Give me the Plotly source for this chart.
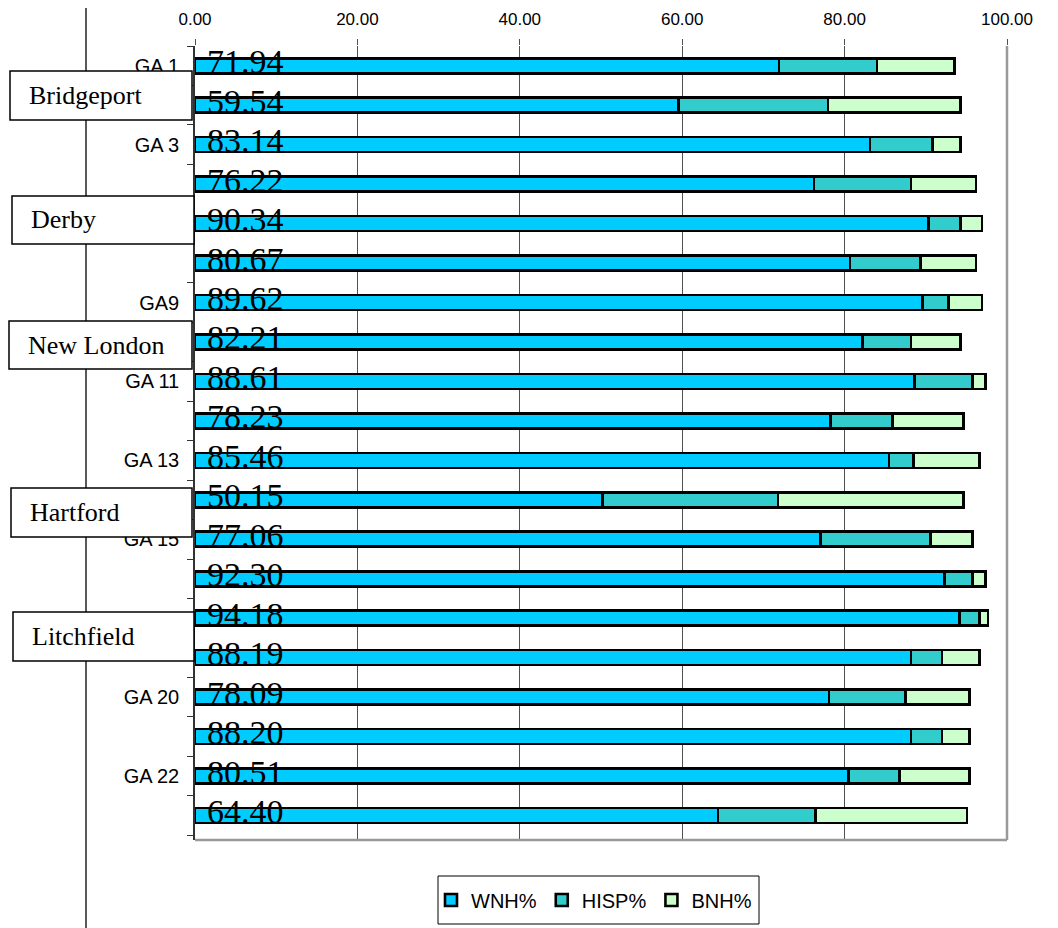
import plotly.graph_objects as go

# ---------------- data ----------------
categories = ["GA 1", "GA 2", "GA 3", "GA 4", "GA 5", "GA 6", "GA9", "GA 10", "GA 11", "GA 12",
              "GA 13", "GA 14", "GA 15", "GA 16", "GA 17", "GA 18", "GA 20", "GA 21", "GA 22", "GA 23"]
tick_labels = ["GA 1", "", "GA 3", "", "GA 5", "", "GA9", "", "GA 11", "",
               "GA 13", "", "GA 15", "", "", "", "GA 20", "", "GA 22", ""]
wnh = [71.94, 59.54, 83.14, 76.22, 90.34, 80.67, 89.62, 82.21, 88.61, 78.23,
       85.46, 50.15, 77.06, 92.30, 94.18, 88.19, 78.09, 88.20, 80.51, 64.40]
hisp = [12.06, 18.42, 7.71, 11.96, 3.91, 8.66, 3.20, 5.97, 7.16, 7.69,
        3.05, 21.66, 13.50, 3.47, 2.41, 3.81, 9.39, 3.80, 6.23, 12.00]
bnh = [9.50, 16.29, 3.40, 8.00, 2.67, 6.85, 4.10, 6.07, 1.56, 8.74,
       8.08, 22.85, 5.21, 1.56, 1.07, 4.59, 7.92, 3.40, 8.66, 18.67]
series_names = ["WNH%", "HISP%", "BNH%"]
series_colors = ["#00CCFF", "#33CCCC", "#CCFFCC"]
x_ticks = [0, 20, 40, 60, 80, 100]
cities = ["Bridgeport", "Derby", "New London", "Hartford", "Litchfield"]
# city box geometry in page pixels (left, top, right, bottom)
city_boxes = [(10, 71, 192, 120), (12, 196, 194, 244), (9, 321, 192, 369),
              (11, 488, 192, 537), (13, 612, 194, 661)]

OFF = 8  # default page body margin
W, H = 1050, 920
ML, MT = 195 - OFF, 46 - OFF
PW, PH = 812, 794
MR, MB = W - ML - PW, H - MT - PH


def px2x(px):
    return (px - OFF - ML) / PW


def px2y(py):
    return (MT + PH - (py - OFF)) / PH


fig = go.Figure()
for name, vals, col in zip(series_names, [wnh, hisp, bnh], series_colors):
    fig.add_trace(go.Bar(
        y=categories, x=vals, name=name, orientation="h",
        marker=dict(color=col, line=dict(color="black", width=2.6)),
    ))

# data labels for WNH
for c, v in zip(categories, wnh):
    fig.add_annotation(x=0, y=c, xref="x", yref="y", text=f"{v:.2f}", showarrow=False,
                       xanchor="left", yanchor="middle", xshift=10, yshift=4,
                       font=dict(family="Liberation Serif, Times New Roman, serif", size=34, color="black"))

shapes = []
# page line on the left
shapes.append(dict(type="line", xref="paper", yref="paper", x0=px2x(86), x1=px2x(86),
                   y0=px2y(0), y1=px2y(940), line=dict(color="#222", width=1.5), layer="above"))
# plot frame right & bottom (gray)
shapes.append(dict(type="line", xref="paper", yref="paper", x0=1, x1=1, y0=0, y1=1,
                   line=dict(color="#999999", width=2.5), layer="above"))
shapes.append(dict(type="line", xref="paper", yref="paper", x0=0, x1=1, y0=0, y1=0,
                   line=dict(color="#999999", width=2.5), layer="above"))
# city boxes
for (l, t, r, b) in city_boxes:
    shapes.append(dict(type="rect", xref="paper", yref="paper", x0=px2x(l), x1=px2x(r),
                       y0=px2y(b), y1=px2y(t), fillcolor="white",
                       line=dict(color="black", width=1.5), layer="above"))
# legend box
shapes.append(dict(type="rect", xref="paper", yref="paper", x0=px2x(438), x1=px2x(759),
                   y0=px2y(924), y1=px2y(876), fillcolor="white",
                   line=dict(color="black", width=1), layer="above"))

for name, (l, t, r, b) in zip(cities, city_boxes):
    fig.add_annotation(x=px2x(l + 17), y=px2y((t + b) / 2), xref="paper", yref="paper",
                       text=name, showarrow=False, xanchor="left", yanchor="middle",
                       font=dict(family="Liberation Serif, Times New Roman, serif", size=26, color="black"))

fig.update_layout(
    width=W, height=H,
    margin=dict(l=ML, r=MR, t=MT, b=MB, pad=0, autoexpand=False),
    barmode="stack", bargap=0.62,
    paper_bgcolor="white", plot_bgcolor="white",
    font=dict(family="Liberation Sans, Arial, sans-serif", color="black"),
    shapes=shapes,
    showlegend=True,
    legend=dict(orientation="h", x=px2x(594), xanchor="center", y=px2y(900), yanchor="middle",
                traceorder="normal", font=dict(size=20, color="black"),
                bgcolor="rgba(0,0,0,0)", borderwidth=0, itemwidth=30),
    xaxis=dict(side="top", range=[0, 100], tickmode="array", tickvals=x_ticks,
               tickformat=".2f", showgrid=True, gridcolor="#505050", gridwidth=1,
               ticks="outside", ticklen=6, tickcolor="#505050", showline=False,
               zeroline=False, tickfont=dict(size=17), ticklabelstandoff=7,
               automargin=False),
    yaxis=dict(type="category", autorange="reversed", tickmode="array",
               tickvals=categories, ticktext=tick_labels, tickson="boundaries",
               ticks="outside", ticklen=6, tickcolor="#333", showline=True,
               linecolor="#333", linewidth=1.5, showgrid=False, zeroline=False,
               tickfont=dict(size=20), ticklabelstandoff=10, automargin=False),
)

fig.write_html("out.html")
